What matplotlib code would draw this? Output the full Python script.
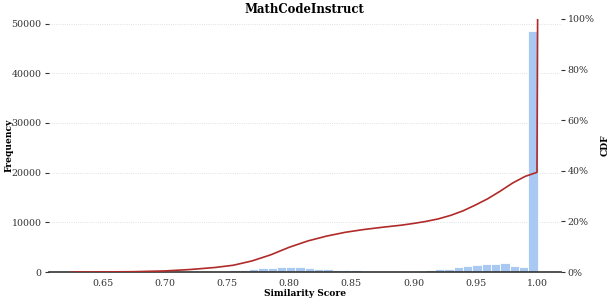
import numpy as np
import matplotlib
matplotlib.use("Agg")
import matplotlib.pyplot as plt

# Histogram: 50 bins from 0.625 to 1.0
bin_start = 0.625
bin_end = 1.0
n_bins = 50
counts = [0, 0, 0, 2, 3, 5, 8, 10, 14, 18, 22, 28, 35,
          45, 70, 120, 220, 330, 460, 590, 720, 840, 950, 1000, 950,
          720, 580, 550, 480, 410, 340, 120, 90, 80, 90, 120, 160, 180,
          400, 560, 700, 970, 1210, 1410, 1550, 1570, 1750, 1210, 1010, 48500]

# CDF curve (fraction)
cdf_x = [0.625, 0.65, 0.675, 0.70, 0.72, 0.74, 0.755, 0.77, 0.785, 0.80,
         0.815, 0.83, 0.845, 0.86, 0.875, 0.89, 0.90, 0.91, 0.92, 0.93,
         0.94, 0.95, 0.96, 0.97, 0.98, 0.99, 0.9995, 1.0]
cdf_y = [0.0, 0.0005, 0.0015, 0.0045, 0.010, 0.018, 0.027, 0.044, 0.068, 0.098,
         0.123, 0.142, 0.157, 0.168, 0.177, 0.185, 0.192, 0.200, 0.210, 0.224,
         0.242, 0.265, 0.290, 0.320, 0.352, 0.378, 0.394, 1.0]

title = "MathCodeInstruct"
xlabel = "Similarity Score"
ylabel_left = "Frequency"
ylabel_right = "CDF"

plt.rcParams['font.family'] = ['DejaVu Serif']

fig = plt.figure(figsize=(6.09, 3.05), dpi=100)
ax = fig.add_axes([0.080, 0.108, 0.841, 0.830])

edges = np.linspace(bin_start, bin_end, n_bins + 1)
ax.hist(edges[:-1], bins=edges, weights=counts, color="#a9c8f2",
        edgecolor="white", linewidth=0.6, zorder=2)

ax.set_ylim(0, max(counts) * 1.05)
ax.set_yticks([0, 10000, 20000, 30000, 40000, 50000])
ax.grid(axis="y", linestyle=":", color="#d6d6d6", linewidth=0.6, zorder=0)
ax.set_axisbelow(True)

for s in ["top", "left", "right"]:
    ax.spines[s].set_visible(False)
ax.spines["bottom"].set_color("#333333")
ax.spines["bottom"].set_linewidth(1.2)
ax.spines["bottom"].set_zorder(3)

ax.tick_params(axis="x", length=0, labelsize=6.8, pad=5, colors="#333333")
ax.tick_params(axis="y", length=3, width=0.8, labelsize=6.8, pad=2, colors="#333333")
ax.set_xticks([0.65, 0.70, 0.75, 0.80, 0.85, 0.90, 0.95, 1.00])
ax.set_xticklabels(["0.65", "0.70", "0.75", "0.80", "0.85", "0.90", "0.95", "1.00"])

ax.set_xlabel(xlabel, fontsize=6.6, fontweight="bold", labelpad=1)
ax.set_ylabel(ylabel_left, fontsize=6.6, fontweight="bold")
ax.yaxis.set_label_coords(-0.068, 0.5)
ax.set_title(title, fontsize=8.4, fontweight="bold", pad=4)

ax2 = ax.twinx()
ax2.plot(cdf_x, cdf_y, color="#b02a2a", linewidth=1.2, zorder=4)
ax2.set_ylim(0, 1.0)
ax2.set_yticks([0, 0.2, 0.4, 0.6, 0.8, 1.0])
ax2.set_yticklabels(["0%", "20%", "40%", "60%", "80%", "100%"])
for s in ["top", "left", "right", "bottom"]:
    ax2.spines[s].set_visible(False)
ax2.tick_params(axis="y", length=3, width=0.8, labelsize=6.8, pad=2, colors="#333333")
ax2.set_ylabel(ylabel_right, fontsize=6.6, fontweight="bold", labelpad=4)

ax.set_xlim(0.60625, 1.01875)

fig.savefig("out.png", dpi=100)
